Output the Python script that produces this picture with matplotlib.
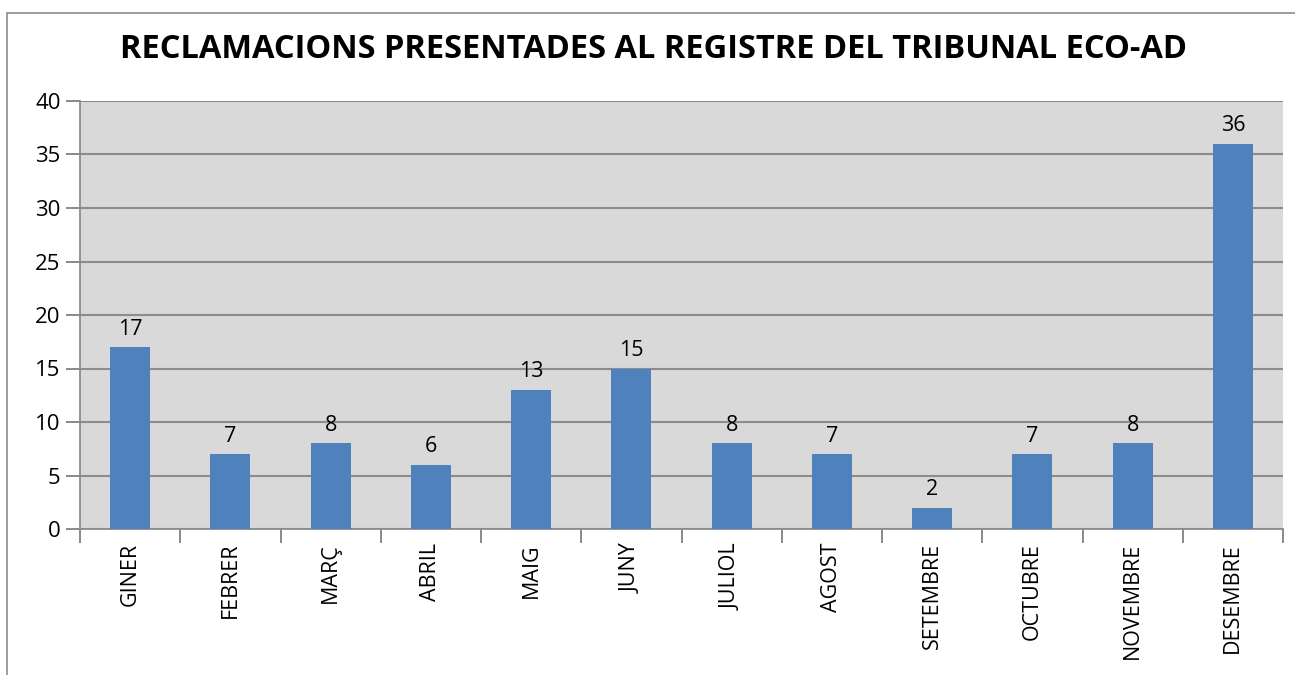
import matplotlib.pyplot as plt
import matplotlib.patches as mpatches
import numpy as np

months = ['GINER', 'FEBRER', 'MARÇ', 'ABRIL', 'MAIG', 'JUNY', 'JULIOL',
          'AGOST', 'SETEMBRE', 'OCTUBRE', 'NOVEMBRE', 'DESEMBRE']
claims = [17, 7, 8, 6, 13, 15, 8, 7, 2, 7, 8, 36]
yticks = [0, 5, 10, 15, 20, 25, 30, 35, 40]

plt.rcParams['font.family'] = ['Open Sans', 'DejaVu Sans']

fig = plt.figure(figsize=(12.95, 6.75), dpi=100)
# outer chart border
fig.patches.append(mpatches.Rectangle((7 / 1295, -0.01), 1.0, 1 - 13 / 675 + 0.01,
                                      transform=fig.transFigure, fill=False,
                                      edgecolor='#8c8c8c', linewidth=1.2))

ax = fig.add_axes([80 / 1295, 1 - 529 / 675, 1203 / 1295, 428 / 675])
ax.set_facecolor('#d9d9d9')
x = np.arange(len(months))
bars = ax.bar(x, claims, width=0.4, color='#4f81bd', zorder=3)
for xi, v in zip(x, claims):
    ax.text(xi, v + 0.7, str(v), ha='center', va='bottom', fontsize=15.5, color='black')

ax.set_xlim(-0.5, len(months) - 0.5)
ax.set_ylim(0, 40)
ax.set_yticks(yticks)
ax.tick_params(axis='y', labelsize=16, length=10, color='#808080', width=1.3, pad=4)
ax.set_xticks(x)
ax.set_xticklabels(months, rotation=90, fontsize=15.5)
ax.tick_params(axis='x', length=0, pad=10)
ax.set_xticks(np.arange(-0.5, len(months)), minor=True)
ax.tick_params(axis='x', which='minor', length=10, color='#808080', width=1.3)
ax.grid(axis='y', color='#8c8c8c', linewidth=1.5, zorder=0)
for s in ['top', 'right']:
    ax.spines[s].set_visible(False)
for s in ['left', 'bottom']:
    ax.spines[s].set_color('#8c8c8c')
    ax.spines[s].set_linewidth(1.3)

fig.text(653 / 1295, 1 - 50 / 675, 'RECLAMACIONS PRESENTADES AL REGISTRE DEL TRIBUNAL ECO-AD',
         ha='center', va='center', fontsize=23.5, fontweight='bold')

fig.savefig('out.png', dpi=100)
